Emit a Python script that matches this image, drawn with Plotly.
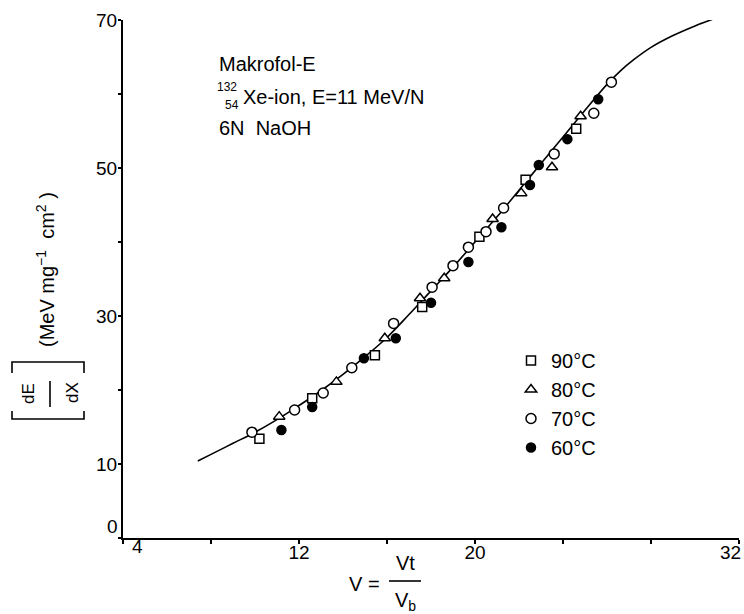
import plotly.graph_objects as go

# ---- data ----
curve_x = [7.4, 8, 9, 10, 11, 12, 13, 14, 15, 16, 17, 18, 19, 20, 21, 22, 23, 24, 25, 26, 26.6, 27.2, 28, 29, 30, 30.8]
curve_y = [10.4, 11.3, 12.8, 14.3, 16.0, 17.9, 19.9, 22.1, 24.5, 27.1, 30.2, 33.4, 36.6, 40.0, 43.4, 47.0, 50.6, 54.2, 57.8, 61.3, 63.1, 64.6, 66.3, 67.9, 69.2, 70.1]

sq_x = [10.2, 12.6, 15.45, 17.6, 20.2, 22.3, 24.6]
sq_y = [13.4, 18.9, 24.7, 31.2, 40.7, 48.4, 55.3]

tri_x = [11.1, 13.7, 15.9, 17.5, 18.6, 20.8, 22.1, 23.5, 24.8]
tri_y = [16.4, 21.1, 27.0, 32.4, 35.1, 43.1, 46.6, 50.1, 57.0]

circ_x = [9.86, 11.8, 13.1, 14.4, 16.3, 18.05, 19.0, 19.7, 20.5, 21.3, 23.6, 25.4, 26.2]
circ_y = [14.3, 17.3, 19.6, 23.0, 29.0, 33.9, 36.8, 39.3, 41.4, 44.6, 51.9, 57.4, 61.6]

fill_x = [11.2, 12.6, 14.95, 16.4, 18.0, 19.7, 21.2, 22.5, 22.9, 24.2, 25.6]
fill_y = [14.6, 17.7, 24.3, 27.0, 31.8, 37.3, 42.0, 47.7, 50.4, 53.9, 59.3]

series_names = ["90\u00b0C", "80\u00b0C", "70\u00b0C", "60\u00b0C"]

x_tickvals = [4, 8, 12, 16, 20, 24, 28, 32]
x_ticktext = ["", "", "12", "", "20", "", "", ""]
y_tickvals = [0, 10, 20, 30, 40, 50, 60, 70]
y_ticktext = ["", "10", "", "30", "", "50", "", "70"]

FONT = "Liberation Sans, Arial, sans-serif"

# ---- layout geometry helpers (pixel -> paper) ----
W, H = 744, 614
L, R, T, B = 123, 5, 20, 76
PW, PH = W - L - R, H - T - B


def px(xp):
    return (xp - L) / PW


def py(yp):
    return (H - B - yp) / PH


fig = go.Figure()

fig.add_trace(go.Scatter(x=curve_x, y=curve_y, mode="lines",
                         line=dict(color="black", width=1.6, shape="spline"),
                         showlegend=False, hoverinfo="skip"))

marker_line = dict(color="black", width=1.5)
fig.add_trace(go.Scatter(x=sq_x, y=sq_y, mode="markers", name=series_names[0], legendgroup="a",
                         marker=dict(symbol="square", size=9, color="white", line=marker_line)))
fig.add_trace(go.Scatter(x=tri_x, y=tri_y, mode="markers", name=series_names[1], legendgroup="b",
                         marker=dict(symbol="triangle-up", size=10, color="white", line=marker_line)))
fig.add_trace(go.Scatter(x=circ_x, y=circ_y, mode="markers", name=series_names[2], legendgroup="c",
                         marker=dict(symbol="circle", size=10, color="white", line=marker_line)))
fig.add_trace(go.Scatter(x=fill_x, y=fill_y, mode="markers", name=series_names[3], legendgroup="d",
                         marker=dict(symbol="circle", size=9, color="black", line=marker_line)))

annotations = []
# text block
annotations.append(dict(text="Makrofol-E", x=px(217), y=py(64), xref="paper", yref="paper",
                        xanchor="left", yanchor="middle", showarrow=False, font=dict(size=20)))
annotations.append(dict(text="132", x=px(215), y=py(87), xref="paper", yref="paper",
                        xanchor="left", yanchor="middle", showarrow=False, font=dict(size=12)))
annotations.append(dict(text="54", x=px(223), y=py(105), xref="paper", yref="paper",
                        xanchor="left", yanchor="middle", showarrow=False, font=dict(size=12)))
annotations.append(dict(text="Xe-ion, E=11 MeV/N", x=px(241), y=py(97), xref="paper", yref="paper",
                        xanchor="left", yanchor="middle", showarrow=False, font=dict(size=20)))
annotations.append(dict(text="6N  NaOH", x=px(217), y=py(128), xref="paper", yref="paper",
                        xanchor="left", yanchor="middle", showarrow=False, font=dict(size=20)))

# corner / end tick labels
annotations.append(dict(text="0", x=0, y=0, xref="paper", yref="paper", xanchor="right",
                        yanchor="middle", xshift=-3, yshift=12, showarrow=False, font=dict(size=19)))
annotations.append(dict(text="4", x=0, y=0, xref="paper", yref="paper", xanchor="center",
                        yanchor="top", xshift=14, yshift=4, showarrow=False, font=dict(size=19)))
annotations.append(dict(text="32", x=1, y=0, xref="paper", yref="paper", xanchor="right",
                        yanchor="top", xshift=4, yshift=-2, showarrow=False, font=dict(size=19)))

# y-axis title
annotations.append(dict(text="(MeV mg<sup>\u22121</sup>  cm<sup>2</sup> )", x=px(45), y=py(270),
                        xref="paper", yref="paper", xanchor="center", yanchor="middle",
                        textangle=-90, showarrow=False, font=dict(size=20)))
annotations.append(dict(text="dE", x=px(28), y=py(394), xref="paper", yref="paper",
                        xanchor="center", yanchor="middle", textangle=-90, showarrow=False,
                        font=dict(size=17)))
annotations.append(dict(text="dX", x=px(72), y=py(393), xref="paper", yref="paper",
                        xanchor="center", yanchor="middle", textangle=-90, showarrow=False,
                        font=dict(size=17)))

# x-axis title
annotations.append(dict(text="V =", x=px(364), y=py(584), xref="paper", yref="paper",
                        xanchor="center", yanchor="middle", showarrow=False, font=dict(size=20)))
annotations.append(dict(text="Vt", x=px(405), y=py(563), xref="paper", yref="paper",
                        xanchor="center", yanchor="middle", showarrow=False, font=dict(size=20)))
annotations.append(dict(text="V<sub>b</sub>", x=px(405), y=py(601), xref="paper", yref="paper",
                        xanchor="center", yanchor="middle", showarrow=False, font=dict(size=20)))

shapes = []
line_style = dict(color="black", width=1.6)
# fraction bar of x title
shapes.append(dict(type="line", xref="paper", yref="paper", x0=px(389), x1=px(421),
                   y0=py(581), y1=py(581), line=line_style))
# fraction bar of dE/dX
shapes.append(dict(type="line", xref="paper", yref="paper", x0=px(50), x1=px(50),
                   y0=py(381), y1=py(407), line=line_style))
# brackets (rotated)
shapes.append(dict(type="path", xref="paper", yref="paper",
                   path=f"M {px(12)},{py(373)} L {px(12)},{py(362)} L {px(84)},{py(362)} L {px(84)},{py(373)}",
                   line=line_style))
shapes.append(dict(type="path", xref="paper", yref="paper",
                   path=f"M {px(12)},{py(411)} L {px(12)},{py(419)} L {px(84)},{py(419)} L {px(84)},{py(411)}",
                   line=line_style))

fig.update_layout(
    width=W, height=H,
    margin=dict(l=L, r=R, t=T, b=B, pad=0),
    paper_bgcolor="white", plot_bgcolor="white",
    font=dict(family=FONT, size=19, color="black"),
    showlegend=True,
    legend=dict(x=px(511), y=py(341), xanchor="left", yanchor="top",
                bgcolor="rgba(0,0,0,0)", font=dict(size=20), traceorder="grouped",
                tracegroupgap=0, itemwidth=30),
    annotations=annotations,
    shapes=shapes,
)

fig.update_xaxes(range=[4, 32], tickvals=x_tickvals, ticktext=x_ticktext,
                 showline=True, linecolor="black", linewidth=2, ticks="outside",
                 ticklen=4, tickwidth=1.5, tickcolor="black", showgrid=False, zeroline=False,
                 tickfont=dict(size=19), ticklabelstandoff=-8)
fig.update_yaxes(range=[0, 70], tickvals=y_tickvals, ticktext=y_ticktext,
                 showline=True, linecolor="black", linewidth=2, ticks="outside",
                 ticklen=3, tickwidth=1.5, tickcolor="black", showgrid=False, zeroline=False,
                 tickfont=dict(size=19), ticklabelstandoff=-3)

fig.write_html("out.html")
